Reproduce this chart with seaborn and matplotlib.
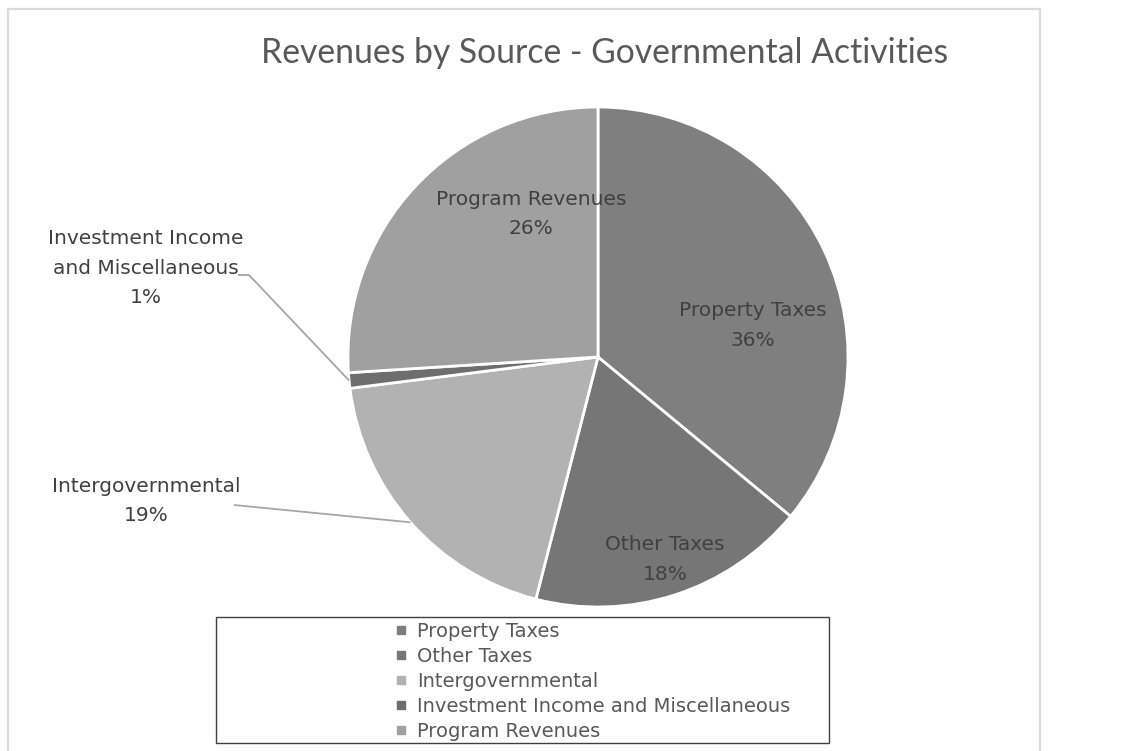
import matplotlib
matplotlib.use("Agg")
import matplotlib.pyplot as plt
from matplotlib.patches import Rectangle
from matplotlib.lines import Line2D
import numpy as np
import seaborn as sns

# Revenue shares (percent) by source
categories = ["Property Taxes", "Other Taxes", "Intergovernmental",
              "Investment Income and Miscellaneous", "Program Revenues"]
shares = [36, 18, 19, 1, 26]
slice_colors = ["#7f7f7f", "#767676", "#b2b2b2", "#6e6e6e", "#a0a0a0"]

# Text shown for each slice label (line-broken where needed)
label_names = ["Property Taxes", "Other Taxes", "Intergovernmental",
               "Investment Income\nand Miscellaneous", "Program Revenues"]

sns.set_theme(style="white")
plt.rcParams["font.family"] = ["DejaVu Sans"]

W, H = 1141, 751
fig = plt.figure(figsize=(W / 100, H / 100), dpi=100)
ax = fig.add_axes([0, 0, 1, 1])

cx, cy, R = 598, H - 357, 250
wedges, _ = ax.pie(shares, colors=slice_colors, startangle=90,
                   counterclock=False, center=(cx, cy), radius=R,
                   wedgeprops=dict(edgecolor="white", linewidth=2.0),
                   frame=True)
ax.set_xlim(0, W)
ax.set_ylim(0, H)
ax.set_axis_off()

# Outer chart border
ax.add_patch(Rectangle((7.5, -5), 1032, H - 8.5 + 5, fill=False,
                       edgecolor="#d9d9d9", linewidth=1.6))

# Label anchor offsets in units of the pie radius
label_offsets = [(0.62, 0.126), (0.268, -0.81), (-1.808, -0.576),
                 (-1.808, 0.356), (-0.268, 0.572)]
inside = [True, True, False, False, True]
# Leader line bends for the outside labels
leader_paths = {2: [(-1.456, -0.592)],
                3: [(-1.396, 0.328), (-1.44, 0.328)]}

total = sum(shares)
for i, (w, name, val) in enumerate(zip(wedges, label_names, shares)):
    pct = f"{100 * val / total:.0f}%"
    dx, dy = label_offsets[i]
    tx, ty = cx + dx * R, cy + dy * R
    ax.text(tx, ty, f"{name}\n{pct}", ha="center", va="center",
            fontsize=14.5, color="#404040", linespacing=1.7)
    if not inside[i]:
        mid = np.deg2rad((w.theta1 + w.theta2) / 2)
        pts = [(cx + R * np.cos(mid), cy + R * np.sin(mid))]
        pts += [(cx + px * R, cy + py * R) for px, py in leader_paths[i]]
        xs, ys = zip(*pts)
        ax.plot(xs, ys, color="#a6a6a6", linewidth=1.3, solid_capstyle="butt")

ax.text(605, H - 53, "Revenues by Source - Governmental Activities",
        ha="center", va="center", fontsize=24.3, color="#595959",
        family=["Lato", "DejaVu Sans"])

# Legend box
ax.add_patch(Rectangle((215.5, H - 743), 613, 126, fill=False,
                       edgecolor="#404040", linewidth=1.0))
handles = [Line2D([], [], linestyle="none", marker="s", markersize=5.5,
                  markerfacecolor=c, markeredgecolor=c) for c in slice_colors]
leg = ax.legend(handles, categories, loc="upper left",
                bbox_to_anchor=(386 / W, (H - 612) / H), frameon=False,
                fontsize=14, labelcolor="#595959", handlelength=0.55,
                handletextpad=0.55, labelspacing=0.31, borderpad=0.0)

fig.savefig("out.png", dpi=100)
